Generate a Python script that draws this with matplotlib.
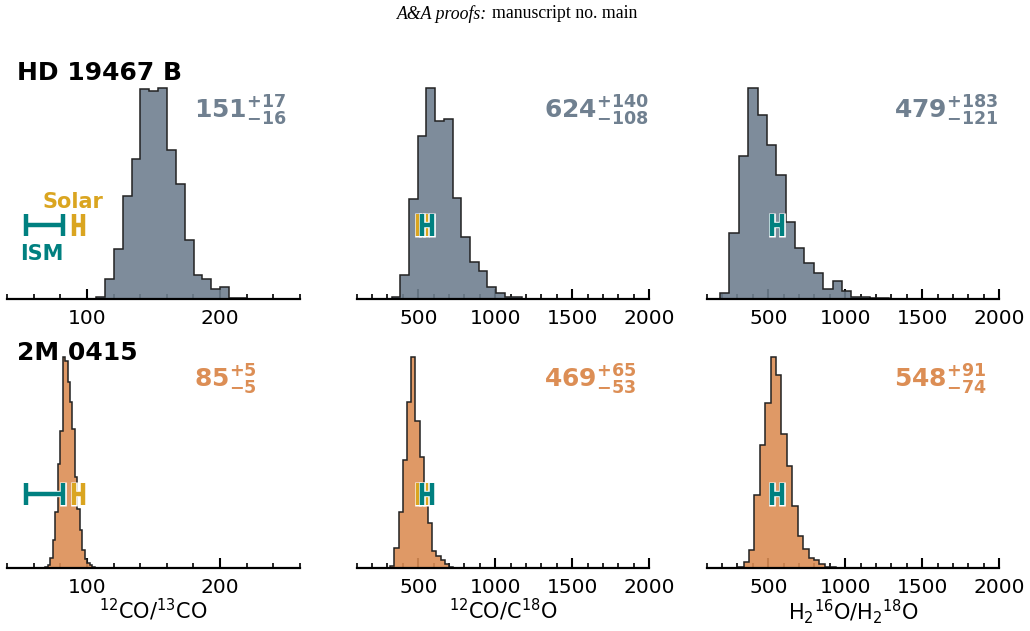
import matplotlib
matplotlib.use("Agg")
import matplotlib.pyplot as plt
from matplotlib.ticker import MultipleLocator
import numpy as np

# ---------------- data ----------------
objects = ["HD 19467 B", "2M 0415"]
xlabels = [r"$^{12}$CO/$^{13}$CO", r"$^{12}$CO/C$^{18}$O", r"H$_2$$^{16}$O/H$_2$$^{18}$O"]

# HD 19467 B histograms (bin edges, counts)
hd_c13_edges = [106.9, 113.6, 120.2, 126.9, 133.5, 140.2, 146.8, 153.5, 160.1, 166.8,
                173.4, 180.1, 186.7, 193.4, 200.0, 206.7, 213.3, 220.0, 226.6, 233.3]
hd_c13_counts = [8, 60, 150, 310, 422, 632, 628, 636, 448, 348, 178, 73, 60, 32, 36, 5, 3, 2, 1]

hd_c18_edges = [327.5, 384.0, 440.5, 497.0, 553.5, 610.0, 666.5, 723.0, 779.5, 836.0,
                892.5, 949.0, 1005.5, 1062.0, 1118.5, 1175.0, 1231.5]
hd_c18_counts = [8, 72, 302, 492, 636, 536, 542, 306, 186, 111, 84, 36, 20, 8, 7, 2]

hd_h2o_edges = [186.5, 247.5, 308.4, 369.4, 430.3, 491.3, 552.3, 613.2, 674.2, 735.1,
                796.1, 857.1, 918.0, 979.0, 1039.9, 1100.9, 1161.9, 1222.8, 1283.8]
hd_h2o_counts = [18, 200, 432, 636, 555, 463, 373, 233, 153, 110, 78, 30, 55, 26, 6, 6, 4, 3]

# 2M 0415 histograms
m_c13_edges = [68.7, 70.55, 72.4, 74.25, 76.1, 77.95, 79.8, 81.65, 83.5, 85.35, 87.2,
               89.05, 90.9, 92.75, 94.6, 96.45, 98.3, 100.15, 102.0, 103.85, 105.7]
m_c13_counts = [3, 9, 30, 85, 170, 315, 415, 637, 625, 560, 500, 420, 275, 180, 115, 55, 27, 15, 10, 4]

m_c18_edges = [317.6, 344.9, 372.2, 399.5, 426.8, 454.1, 481.4, 508.7, 536.0, 563.3,
               590.6, 617.9, 645.2, 672.5, 699.8, 727.1]
m_c18_counts = [8, 62, 170, 327, 502, 639, 444, 335, 192, 137, 52, 37, 25, 12, 5]

m_h2o_edges = [304.0, 339.2, 374.4, 409.6, 444.8, 480.0, 515.2, 550.4, 585.6, 620.8,
               656.0, 691.2, 726.4, 761.6, 796.8, 832.0, 867.2, 902.4, 937.6]
m_h2o_counts = [3, 20, 54, 222, 374, 499, 640, 585, 407, 309, 189, 99, 57, 32, 25, 12, 5, 3]

# median and errors
hd_vals = [("151", "+17", "-16"), ("624", "+140", "-108"), ("479", "+183", "-121")]
m_vals = [("85", "+5", "-5"), ("469", "+65", "-53"), ("548", "+91", "-74")]

# reference ratios (value, error) per column; None = not shown
solar_ref = [(93.5, 3.5), (525, 25), None]
ism_ref = [(68, 14), (557, 30), (557, 30)]

xlims = [(40, 260), (100, 2000), (100, 2000)]
major_steps = [100, 500, 500]
minor_steps = [20, 100, 100]

# ---------------- style ----------------
c_hd = "#708090"
c_m = "#DC8E55"
c_ism = "#008080"
c_solar = "#DAA520"

W, H = 1030, 631
fig = plt.figure(figsize=(W / 100, H / 100), dpi=100)

col_left_px = [7.3, 356.7, 706.7]
col_w_px = 292.4
row_spine_px = [299.3, 568.3]
ax_h_px = 222

hists = [[(hd_c13_edges, hd_c13_counts), (hd_c18_edges, hd_c18_counts), (hd_h2o_edges, hd_h2o_counts)],
         [(m_c13_edges, m_c13_counts), (m_c18_edges, m_c18_counts), (m_h2o_edges, m_h2o_counts)]]
vals = [hd_vals, m_vals]
colors = [c_hd, c_m]


def hbar(ax, x, y, err, color, z):
    # white outline underneath, coloured "H" on top
    ax.errorbar(x, y, xerr=err, fmt="none", ecolor="white", elinewidth=4.6,
                capsize=8.6, capthick=4.8, zorder=z)
    ax.errorbar(x, y, xerr=err, fmt="none", ecolor=color, elinewidth=3.2,
                capsize=7.9, capthick=3.2, zorder=z + 0.1)


for r in range(2):
    for c in range(3):
        ax = fig.add_axes([col_left_px[c] / W, 1 - row_spine_px[r] / H, col_w_px / W, ax_h_px / H])
        edges, counts = hists[r][c]
        ax.stairs(counts, edges, fill=True, facecolor=colors[r], alpha=0.9,
                  edgecolor="none", zorder=2.6)
        ax.stairs(counts, edges, fill=False, color="#222222", linewidth=1.1, zorder=2.7)
        ymax = max(counts) * 1.05
        ax.set_ylim(0, ymax)
        ax.set_xlim(*xlims[c])
        for s in ["left", "right", "top"]:
            ax.spines[s].set_visible(False)
        ax.spines["bottom"].set_linewidth(1.6)
        ax.spines["bottom"].set_zorder(4)
        ax.set_yticks([])
        ax.xaxis.set_major_locator(MultipleLocator(major_steps[c]))
        ax.xaxis.set_minor_locator(MultipleLocator(minor_steps[c]))
        ax.tick_params(axis="x", which="major", direction="in", length=7, width=1.5,
                       labelsize=14.5, pad=7)
        ax.tick_params(axis="x", which="minor", direction="in", length=3.5, width=1.2)
        ax.patch.set_alpha(0)

        ybar = max(counts) * 0.35
        if solar_ref[c] is not None:
            sv, se = solar_ref[c]
            hbar(ax, sv, ybar, se, c_solar, 5)
        iv, ie = ism_ref[c]
        hbar(ax, iv, ybar, ie, c_ism, 6)

        med, up, lo = vals[r][c]
        ax.text(0.64, 0.815,
                r"$\mathbf{%s}^{\mathbf{%s}}_{\mathbf{%s}}$" % (med, up, lo),
                transform=ax.transAxes, ha="left", va="baseline",
                color=colors[r], fontsize=18)

        if r == 1:
            ax.set_xlabel(xlabels[c], fontsize=15, labelpad=0)

        if r == 0 and c == 0:
            ax.text(0.226, 0.437, "Solar", transform=ax.transAxes, ha="center", va="center",
                    color=c_solar, fontsize=15, fontweight="bold")
            ax.text(0.118, 0.205, "ISM", transform=ax.transAxes, ha="center", va="center",
                    color=c_ism, fontsize=15, fontweight="bold")

fig.text(17 / W, 1 - 73 / H, objects[0], ha="left", va="center", fontsize=18, fontweight="bold")
fig.text(17 / W, 1 - 353 / H, objects[1], ha="left", va="center", fontsize=18, fontweight="bold")

fig.text(487 / W, 1 - 14 / H, "A&A proofs:", ha="right", va="center",
         family="Liberation Serif", style="italic", fontsize=12.8)
fig.text(491.5 / W, 1 - 14 / H, "manuscript no. main", ha="left", va="center",
         family="Liberation Serif", fontsize=12.8)

fig.savefig("out.png", dpi=100)
